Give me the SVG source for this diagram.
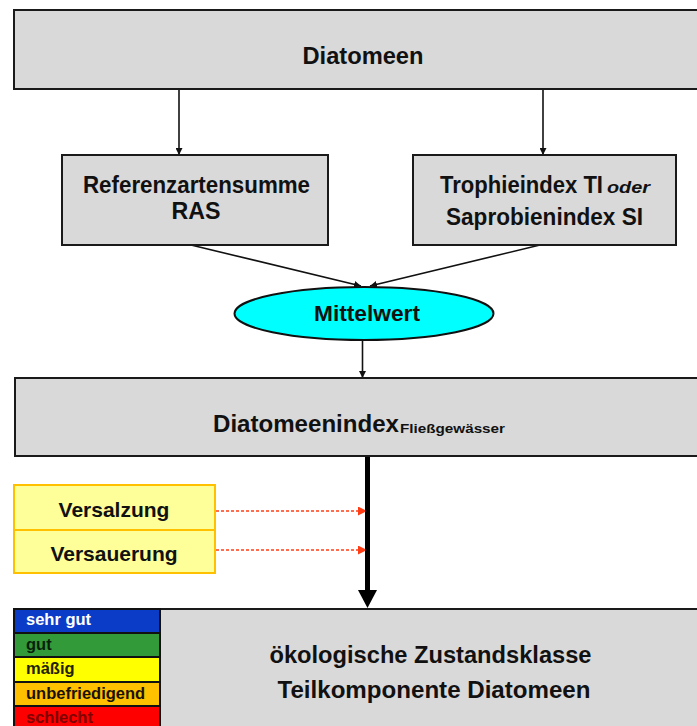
<svg xmlns="http://www.w3.org/2000/svg" width="697" height="726" viewBox="0 0 697 726">
<defs>
<style>
.box{fill:#d9d9d9;stroke:#1a1a1a;stroke-width:2}
.t{font-family:"Liberation Sans",Arial,sans-serif;font-weight:bold;fill:#111}
.c{text-anchor:middle}
.yel{fill:#ffff99;stroke:#ffc000;stroke-width:2}
.con{stroke:#111;stroke-width:1.6;fill:none}
.red{stroke:#ff3c14;stroke-width:1.5;stroke-dasharray:3,2;fill:none}
.lg{stroke:#111;stroke-width:2}
.lt{font-family:"Liberation Sans",Arial,sans-serif;font-weight:bold;font-size:16.5px}
</style>
<marker id="ah" viewBox="0 0 10 10" refX="10" refY="5" markerWidth="7" markerHeight="7" markerUnits="userSpaceOnUse" orient="auto">
<path d="M0,0 L10,5 L0,10 z" fill="#111"/>
</marker>
<marker id="ahr" viewBox="0 0 10 10" refX="10" refY="5" markerWidth="9" markerHeight="9" markerUnits="userSpaceOnUse" orient="auto">
<path d="M0,0 L10,5 L0,10 z" fill="#ff3c14"/>
</marker>
</defs>
<rect width="697" height="726" fill="#ffffff"/>

<g id="connectors">
<line class="con" x1="179" y1="89" x2="179" y2="155" marker-end="url(#ah)"/>
<line class="con" x1="543" y1="89" x2="543" y2="155" marker-end="url(#ah)"/>
<line class="con" x1="191" y1="245" x2="361" y2="286" marker-end="url(#ah)"/>
<line class="con" x1="540" y1="245" x2="370" y2="286" marker-end="url(#ah)"/>
<line class="con" x1="362.5" y1="340" x2="362.5" y2="378" marker-end="url(#ah)"/>
<line class="red" x1="216" y1="511" x2="367" y2="511" marker-end="url(#ahr)"/>
<line class="red" x1="216" y1="550" x2="367" y2="550" marker-end="url(#ahr)"/>
<line x1="367.5" y1="456" x2="367.5" y2="592" stroke="#000" stroke-width="5"/>
<polygon points="358,590 377,590 367.5,608" fill="#000"/>
</g>

<g id="diatomeen">
<rect class="box" x="14" y="10" width="700" height="79"/>
<text class="t c" x="363" y="63.5" font-size="23" textLength="121" lengthAdjust="spacingAndGlyphs">Diatomeen</text>
</g>

<g id="ras">
<rect class="box" x="62" y="155" width="266" height="90"/>
<text class="t c" x="196.5" y="193" font-size="23" textLength="227" lengthAdjust="spacingAndGlyphs">Referenzartensumme</text>
<text class="t c" x="196" y="219" font-size="23" textLength="49" lengthAdjust="spacingAndGlyphs">RAS</text>
</g>

<g id="trophie">
<rect class="box" x="413" y="155" width="263" height="90"/>
<text class="t" x="440" y="193" font-size="23" textLength="163" lengthAdjust="spacingAndGlyphs">Trophieindex TI</text>
<text class="t" x="607" y="193" font-size="16" font-style="italic" textLength="43" lengthAdjust="spacingAndGlyphs">oder</text>
<text class="t" x="446" y="225" font-size="23" textLength="197" lengthAdjust="spacingAndGlyphs">Saprobienindex SI</text>
</g>

<g id="mittelwert">
<ellipse cx="364" cy="313.5" rx="129.5" ry="26.5" fill="#00ffff" stroke="#111" stroke-width="2"/>
<text class="t c" x="367" y="321" font-size="22.5" textLength="106" lengthAdjust="spacingAndGlyphs">Mittelwert</text>
</g>

<g id="diatomeenindex">
<rect class="box" x="15" y="378" width="700" height="78"/>
<text class="t" x="213" y="431.5" font-size="24" textLength="186" lengthAdjust="spacingAndGlyphs">Diatomeenindex</text>
<text class="t" x="400" y="433" font-size="13.5" textLength="105" lengthAdjust="spacingAndGlyphs">Fließgewässer</text>
</g>

<g id="versalzung">
<rect class="yel" x="14" y="485" width="201" height="45"/>
<text class="t c" x="114" y="517" font-size="21">Versalzung</text>
</g>

<g id="versauerung">
<rect class="yel" x="14" y="530" width="201" height="43"/>
<text class="t c" x="114" y="561" font-size="21">Versauerung</text>
</g>

<g id="zustandsklasse">
<rect class="box" x="160" y="609" width="560" height="130"/>
<text class="t c" x="430.5" y="663" font-size="23" textLength="322" lengthAdjust="spacingAndGlyphs">ökologische Zustandsklasse</text>
<text class="t c" x="434" y="698" font-size="23" textLength="313" lengthAdjust="spacingAndGlyphs">Teilkomponente Diatomeen</text>
</g>

<g id="legende">
<rect class="lg" x="14" y="609" width="146" height="24" fill="#0a3cc8"/>
<rect class="lg" x="14" y="633" width="146" height="24" fill="#339a3a"/>
<rect class="lg" x="14" y="657" width="146" height="25" fill="#ffff00"/>
<rect class="lg" x="14" y="682" width="146" height="24" fill="#ffc000"/>
<rect class="lg" x="14" y="706" width="146" height="30" fill="#ff0000"/>
<text class="lt" x="26" y="625" fill="#ffffff">sehr gut</text>
<text class="lt" x="26" y="650" fill="#0a1f0a">gut</text>
<text class="lt" x="26" y="674" fill="#222200">mäßig</text>
<text class="lt" x="26" y="699" fill="#1a1200">unbefriedigend</text>
<text class="lt" x="26" y="723" fill="#800000">schlecht</text>
</g>
</svg>
